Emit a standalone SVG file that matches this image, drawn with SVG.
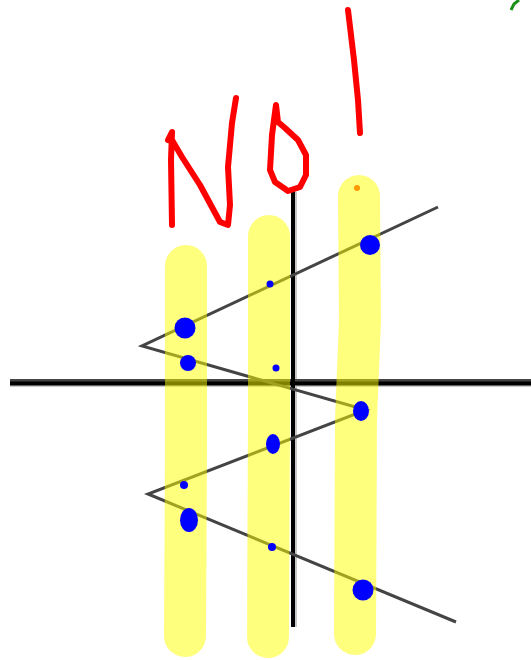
<svg xmlns="http://www.w3.org/2000/svg" width="531" height="660" viewBox="0 0 531 660">
<style>
.axis{stroke:#000;stroke-width:4;fill:none}
.shadow{stroke:#c8c8c8;stroke-width:2;fill:none}
.zig{stroke:#444;stroke-width:3;fill:none;stroke-linejoin:miter}
.col{stroke:#ffff00;stroke-width:42;stroke-linecap:round;stroke-linejoin:round;fill:none}
.red{stroke:#ff0000;stroke-width:6;stroke-linecap:round;stroke-linejoin:round;fill:none}
.dot{fill:#0000ff}
</style>
<rect width="531" height="660" fill="#fff"/>
<g id="axes">
<line class="shadow" x1="10" y1="386" x2="531" y2="386"/>
<line class="shadow" x1="296" y1="192" x2="296" y2="627"/>
<line x1="10" y1="380.5" x2="531" y2="380.5" stroke="#444" stroke-width="3"/>
<line class="axis" x1="10" y1="383.5" x2="531" y2="383.5"/>
<line class="axis" x1="293" y1="190" x2="293" y2="627"/>
</g>
<g id="connectors">
<polyline class="zig" points="438,207 142,346 366,410 148,494 456,622"/>
</g>
<g id="columns" opacity="0.5">
<path class="col" d="M186 266 L186 450 L185 636"/>
<path class="col" d="M269 236 L269 420 L268 637"/>
<path class="col" d="M359 196 L360 320 L356 420 L355 634"/>
</g>
<g id="dots">
<circle class="dot" cx="370" cy="245" r="10"/>
<circle class="dot" cx="270" cy="284" r="3.5"/>
<circle class="dot" cx="185" cy="328" r="10.5"/>
<circle class="dot" cx="188" cy="363" r="8"/>
<circle class="dot" cx="276" cy="368" r="3.5"/>
<ellipse class="dot" cx="361" cy="411" rx="8" ry="10"/>
<ellipse class="dot" cx="273" cy="444" rx="7" ry="10"/>
<circle class="dot" cx="184" cy="485" r="4"/>
<ellipse class="dot" cx="189" cy="520" rx="9" ry="12"/>
<circle class="dot" cx="272" cy="547" r="4"/>
<circle class="dot" cx="363" cy="590" r="10.5"/>
<circle cx="357" cy="188" r="3" fill="#ff9900"/>
</g>
<g id="text-No1">
<path class="red" d="M172 225 L171 160 L172 132 L168 140 M172 140 L182 157 L200 185 L220 222 L228 225 L230 205 L228 167 L232 123 L236 98"/>
<path class="red" d="M278 122 L276 105 L272 135 L270 170 L275 182 L288 191 L300 187 L306 175 L306 155 L298 140 L285 128 L278 122"/>
<path class="red" d="M348 10 L354 60 L358 100 L360 133"/>
</g>
<g id="mark">
<path d="M511 10 L514 4 L519 0" stroke="#1a8f1a" stroke-width="3" fill="none"/>
</g>
</svg>
